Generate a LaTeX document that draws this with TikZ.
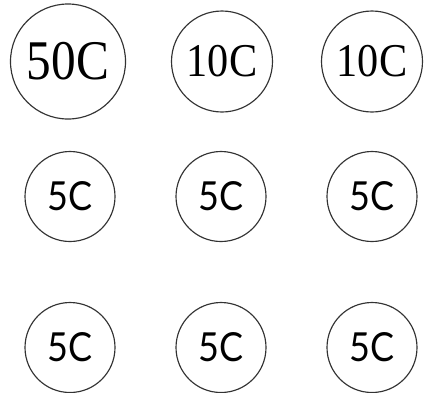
\documentclass[tikz,border=0pt]{standalone}
\usepackage{fontspec}
\usepackage{graphicx}
\setmainfont{Liberation Serif}
\newfontfamily\coinsans{Lato}
\begin{document}
\begin{tikzpicture}[x=1pt,y=-1pt,
  coin/.style={circle,draw=black!80,line width=1.15pt,inner sep=0pt},
  big/.style={coin,minimum size=115pt,font=\fontsize{56}{60}\selectfont},
  mid/.style={coin,minimum size=101pt,font=\fontsize{47}{50}\selectfont},
  small/.style={coin,minimum size=90pt,font=\coinsans\fontsize{40}{45}\selectfont}]
\useasboundingbox (0,0) rectangle (425,392);
\node[big] (c50) at (68,61.5) {\scalebox{0.88}[1]{50C}};
\node[mid] (c10a) at (222,61.5) {\scalebox{0.9}[1]{10C}};
\node[mid] (c10b) at (372,61.5) {\scalebox{0.9}[1]{10C}};
\node[small] (a1) at (70,196.5) {\scalebox{0.9}[1]{5C}};
\node[small] (a2) at (221,196.5) {\scalebox{0.9}[1]{5C}};
\node[small] (a3) at (372,196.5) {\scalebox{0.9}[1]{5C}};
\node[small] (b1) at (70,347.5) {\scalebox{0.9}[1]{5C}};
\node[small] (b2) at (221,347.5) {\scalebox{0.9}[1]{5C}};
\node[small] (b3) at (372,347.5) {\scalebox{0.9}[1]{5C}};
\end{tikzpicture}
\end{document}
